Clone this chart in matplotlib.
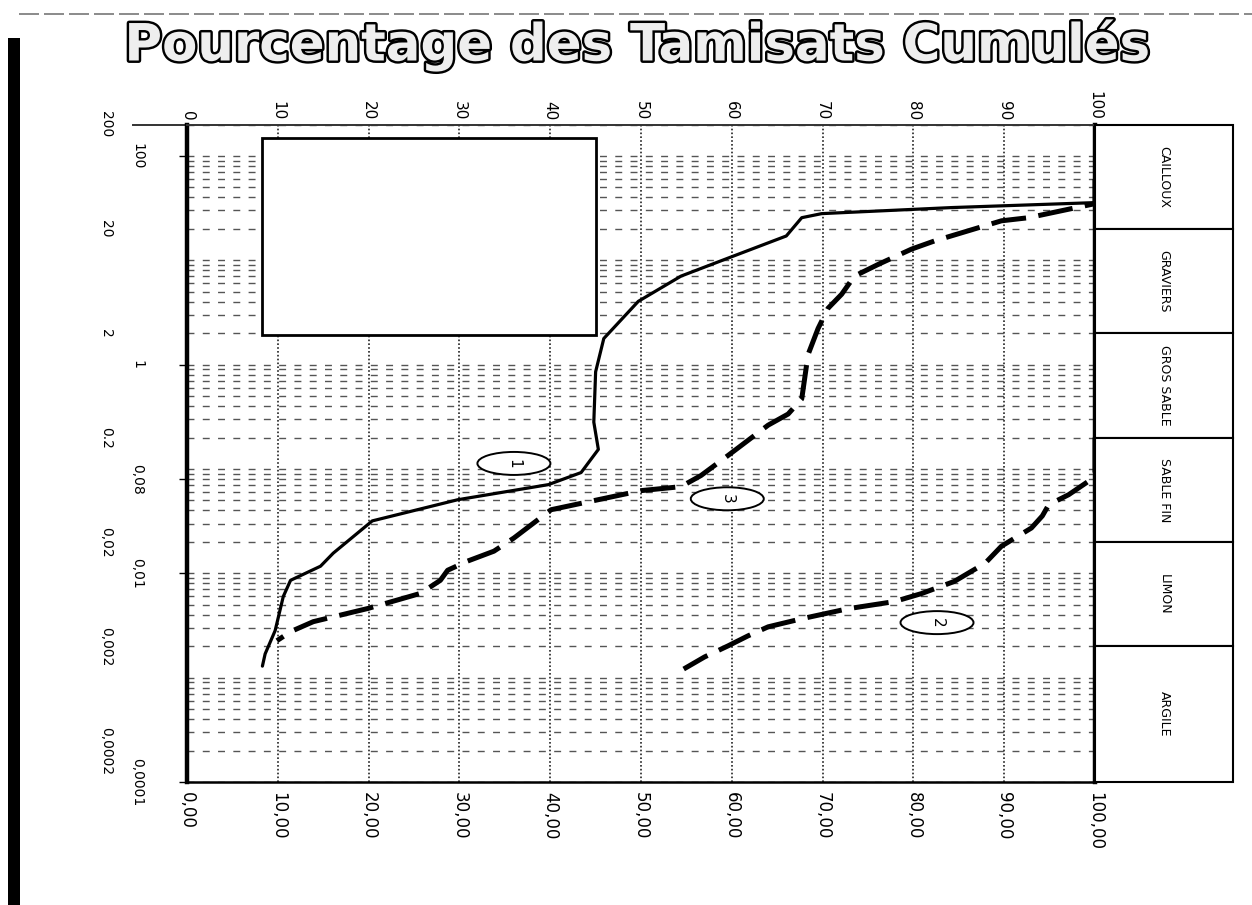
import numpy as np
import matplotlib.pyplot as plt
import matplotlib.patheffects as pe
from matplotlib.patches import Rectangle, Ellipse
from matplotlib.ticker import FixedLocator, LogLocator, NullFormatter, NullLocator
from matplotlib.transforms import ScaledTranslation

# courbe 1 (trait plein) : % tamisat cumulé / diamètre (mm)
pct_1 = [100, 100, 84.2, 69.9, 67.7, 66.0, 59.6, 54.4, 49.7, 45.9, 45.0, 44.8,
         45.3, 43.4, 39.8, 29.8, 20.4, 16.1, 14.7, 11.4, 10.6, 9.7, 8.6, 8.3]
dia_1 = [60, 35.7, 32.0, 28.0, 25.6, 17.1, 10.5, 7.05, 4.04, 1.78, 0.854, 0.281,
         0.154, 0.0924, 0.0708, 0.0507, 0.0318, 0.0156, 0.0117, 0.00857, 0.0060,
         0.00282, 0.00169, 0.00129]

# courbe 2 (tirets)
pct_2 = [100, 100, 99.4, 97.1, 94.9, 94.2, 93.0, 89.7, 87.9, 84.5, 80.9, 77.9,
         72.8, 67.7, 64.0, 61.8, 59.6, 57.0, 54.7]
dia_2 = [0.2, 0.092, 0.0775, 0.0567, 0.0454, 0.0355, 0.0272, 0.0182, 0.0125,
         0.00836, 0.0064, 0.00536, 0.00458, 0.00367, 0.00307, 0.00252, 0.00202,
         0.00158, 0.00121]

# courbe 3 (tirets)
pct_3 = [100, 100, 92.7, 89.7, 82.3, 79.8, 76.2, 73.5, 72.1, 70.6, 69.5, 68.4,
         67.7, 66.2, 64.0, 59.6, 56.6, 54.4, 50.0, 45.3, 40.1, 36.0, 33.8, 30.9,
         28.7, 27.9, 25.7, 19.9, 13.9, 11.4, 9.9]
dia_3 = [60, 34.9, 25.6, 23.9, 15.3, 12.8, 9.2, 7.05, 4.73, 3.47, 2.22, 1.25,
         0.469, 0.336, 0.263, 0.135, 0.0865, 0.0677, 0.0620, 0.0508, 0.0407,
         0.0218, 0.0163, 0.0131, 0.0107, 0.00857, 0.00642, 0.0046, 0.00344,
         0.00276, 0.00226]

classes = ["CAILLOUX", "GRAVIERS", "GROS SABLE", "SABLE FIN", "LIMON", "ARGILE"]
class_bounds = [200, 20, 2, 0.2, 0.02, 0.002, 0.0001]

# graduations de gauche, sur deux colonnes
size_ticks_in = [100, 1, 0.08, 0.01, 0.0001]
size_labels_in = ["100", "1", "0,08", "0,01", "0,0001"]
size_ticks_out = [200, 20, 2, 0.2, 0.02, 0.002, 0.0002]
size_labels_out = ["200", "20", "2", "0.2", "0,02", "0,002", "0,0002"]

pct_ticks = [0, 10, 20, 30, 40, 50, 60, 70, 80, 90, 100]
pct_labels_bottom = ["0,00", "10,00", "20,00", "30,00", "40,00", "50,00",
                     "60,00", "70,00", "80,00", "90,00", "100,00"]
pct_labels_top = ["0", "10", "20", "30", "40", "50", "60", "70", "80", "90", "100"]

# numéros des courbes (texte, %, diamètre)
curve_tags = [("1", 36.0, 0.113), ("3", 59.5, 0.0518), ("2", 82.6, 0.00337)]


def rotate_labels(labels, va='center'):
    for t in labels:
        t.set_rotation(-90)
        t.set_ha('center')
        t.set_va(va)


fig = plt.figure(figsize=(12.52, 9.05), dpi=100)
ax = fig.add_axes([0.1494, 0.1359, 0.7252, 0.7265])
ax.set_yscale('log')
ax.set_xlim(0, 100)
ax.set_ylim(0.0001, 200)

# grilles
ax.yaxis.remove_overlapping_locs = False
ax.yaxis.set_major_locator(FixedLocator(size_ticks_in))
ax.yaxis.set_major_formatter(plt.FixedFormatter(size_labels_in))
ax.yaxis.set_minor_locator(LogLocator(base=10, subs=np.arange(1, 10), numticks=50))
ax.yaxis.set_minor_formatter(NullFormatter())
ax.grid(axis='y', which='minor', color='#555555', linestyle=(0, (5, 6)), linewidth=1)
ax.set_xticks(pct_ticks)
ax.set_xticklabels(pct_labels_bottom)
ax.grid(axis='x', which='major', color='#222222', linestyle=(0, (1, 1.3)), linewidth=1.2)
ax.set_axisbelow(True)

ax.tick_params(axis='y', which='minor', length=0)
ax.tick_params(axis='y', which='major', length=6, width=1, pad=30, labelsize=10)
ax.tick_params(axis='x', length=0, pad=7, labelsize=12)
rotate_labels(ax.get_yticklabels())
rotate_labels(ax.get_xticklabels(), va='top')

left2 = ax.secondary_yaxis('left')
left2.yaxis.set_major_locator(FixedLocator(size_ticks_out))
left2.yaxis.set_major_formatter(plt.FixedFormatter(size_labels_out))
left2.yaxis.set_minor_locator(NullLocator())
left2.tick_params(length=0, pad=58, labelsize=10)
left2.spines['left'].set_visible(False)
rotate_labels(left2.get_yticklabels())

top = ax.secondary_xaxis('top')
top.set_xticks(pct_ticks)
top.set_xticklabels(pct_labels_top)
top.tick_params(length=0, pad=3, labelsize=11)
rotate_labels(top.get_xticklabels(), va='bottom')
top.spines['top'].set_visible(False)

ax.spines['left'].set_linewidth(3.2)
ax.spines['right'].set_linewidth(3.2)
ax.spines['bottom'].set_linewidth(1.8)
ax.spines['top'].set_linewidth(1.4)
ax.spines['top'].set_color('#333333')
# prolongement du trait supérieur vers la gauche
ax.plot([-6, 0], [200, 200], color='#333333', linewidth=1.4, clip_on=False)

# courbes
ax.plot(pct_1, dia_1, color='black', linewidth=2.3, solid_capstyle='round', zorder=4)
ax.plot(pct_2, dia_2, color='black', linewidth=3.6, linestyle=(0, (7, 2.5)), zorder=4)
ax.plot(pct_3, dia_3, color='black', linewidth=3.6, linestyle=(0, (7, 2.5)), zorder=4)

# cadre blanc
ax.add_patch(Rectangle((8.3, 1.94), 36.7, 146, facecolor='white',
                       edgecolor='black', linewidth=2, zorder=5))

# numéros entourés
for lab, xp, yp in curve_tags:
    tr = fig.dpi_scale_trans + ScaledTranslation(xp, yp, ax.transData)
    ax.add_artist(Ellipse((0, 0), 0.73, 0.23, transform=tr, facecolor='white',
                          edgecolor='black', linewidth=1.4, zorder=6))
    ax.text(xp, yp, lab, rotation=-90, ha='center', va='center', fontsize=11,
            zorder=7)

# classes granulométriques à droite
for name, hi, lo in zip(classes, class_bounds[:-1], class_bounds[1:]):
    ax.add_patch(Rectangle((100, lo), 15.2, hi - lo, facecolor='white',
                           edgecolor='black', linewidth=1.5, clip_on=False, zorder=3))
    ax.text(107.6, np.sqrt(hi * lo), name, rotation=-90, ha='center',
            va='center', fontsize=9, clip_on=False)

# titre
fig.text(0.509, 0.950, "Pourcentage des Tamisats Cumulés", ha='center',
         va='center', fontsize=37, fontweight='bold', color='#eeeeee',
         path_effects=[pe.withStroke(linewidth=3.5, foreground='black')])

# bords de la page numérisée
fig.patches.append(Rectangle((0.0064, 0), 0.0096, 0.958, transform=fig.transFigure,
                             facecolor='black', edgecolor='none'))
fig.lines.append(plt.Line2D([0.015, 1], [0.984, 0.984], transform=fig.transFigure,
                            color='#777777', linewidth=1.2, linestyle=(0, (12, 3))))

fig.savefig('out.png', dpi=100)
